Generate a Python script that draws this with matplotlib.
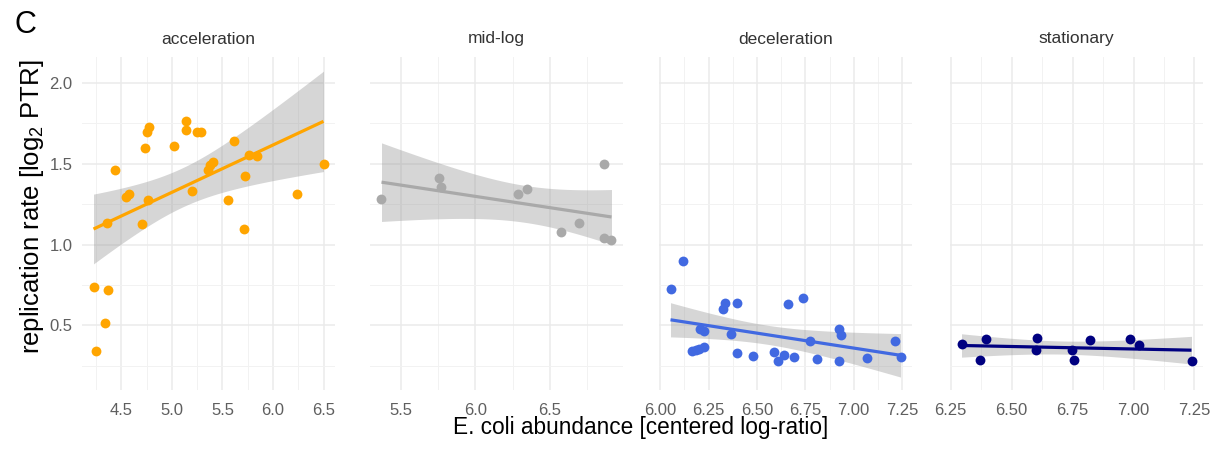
import numpy as np
import matplotlib.pyplot as plt
from matplotlib.ticker import MultipleLocator, FormatStrFormatter

plt.rcParams['font.family'] = ['Liberation Sans', 'DejaVu Sans']
plt.rcParams['mathtext.fontset'] = 'custom'
plt.rcParams['mathtext.rm'] = 'Liberation Sans'
plt.rcParams['mathtext.it'] = 'Liberation Sans:italic'

# growth phases (facets) and their colours
phases = ['acceleration', 'mid-log', 'deceleration', 'stationary']
colors = ['#FFA500', '#A9A9A9', '#4169E1', '#000080']

# values: E. coli abundance (x) vs log2 PTR (y)
acc_x = [4.223, 4.252, 4.338, 4.368, 4.355, 4.431, 4.543, 4.576, 4.708, 4.734,
         4.757, 4.771, 4.767, 5.021, 5.137, 5.140, 5.203, 5.252, 5.292, 5.353,
         5.379, 5.403, 5.559, 5.616, 5.715, 5.721, 5.764, 5.840, 6.236, 6.500]
acc_y = [0.738, 0.342, 0.515, 0.718, 1.134, 1.460, 1.295, 1.311, 1.130, 1.596,
         1.697, 1.728, 1.274, 1.610, 1.765, 1.711, 1.330, 1.693, 1.695, 1.460,
         1.491, 1.511, 1.278, 1.641, 1.099, 1.425, 1.553, 1.546, 1.315, 1.497]

mid_x = [5.371, 5.753, 5.767, 6.287, 6.342, 6.571, 6.693, 6.864, 6.860, 6.911]
mid_y = [1.282, 1.412, 1.357, 1.315, 1.346, 1.078, 1.134, 1.501, 1.043, 1.031]

dec_x = [6.053, 6.116, 6.163, 6.185, 6.202, 6.224, 6.207, 6.228, 6.322, 6.334,
         6.396, 6.368, 6.396, 6.478, 6.586, 6.611, 6.642, 6.659, 6.690, 6.740,
         6.774, 6.810, 6.925, 6.933, 6.925, 7.067, 7.212, 7.242]
dec_y = [0.725, 0.896, 0.344, 0.348, 0.354, 0.365, 0.475, 0.463, 0.604, 0.640,
         0.640, 0.444, 0.327, 0.313, 0.333, 0.281, 0.319, 0.635, 0.306, 0.667,
         0.402, 0.292, 0.479, 0.438, 0.277, 0.298, 0.402, 0.306]

sta_x = [6.294, 6.369, 6.396, 6.598, 6.602, 6.746, 6.755, 6.820, 6.985, 7.023, 7.238]
sta_y = [0.387, 0.284, 0.418, 0.350, 0.424, 0.350, 0.284, 0.412, 0.418, 0.381, 0.280]

xs_all = [acc_x, mid_x, dec_x, sta_x]
ys_all = [acc_y, mid_y, dec_y, sta_y]
x_major = [0.5, 0.5, 0.25, 0.25]
x_fmt = ['%.1f', '%.1f', '%.2f', '%.2f']


def t975(df):
    # Cornish-Fisher style approximation of the t quantile
    z = 1.959964
    return z + (z**3 + z) / (4 * df) + (5 * z**5 + 16 * z**3 + 3 * z) / (96 * df**2)


W, H = 1214, 450
fig = plt.figure(figsize=(W / 100, H / 100), dpi=100)

panel_left = [82, 370, 659, 950]
pw = 253
top, bottom = 57, 390

for i in range(4):
    x = np.array(xs_all[i])
    y = np.array(ys_all[i])
    c = colors[i]
    ax = fig.add_axes([panel_left[i] / W, (H - bottom) / H, pw / W, (bottom - top) / H])

    # linear fit with 95% confidence band (like geom_smooth(method='lm'))
    n = len(x)
    b1, b0 = np.polyfit(x, y, 1)
    resid = y - (b0 + b1 * x)
    s = np.sqrt(np.sum(resid**2) / (n - 2))
    xx = np.linspace(x.min(), x.max(), 100)
    yy = b0 + b1 * xx
    se = s * np.sqrt(1 / n + (xx - x.mean())**2 / np.sum((x - x.mean())**2))
    t = t975(n - 2)
    ax.fill_between(xx, yy - t * se, yy + t * se, color='#999999', alpha=0.4, lw=0, zorder=2)
    ax.scatter(x, y, s=50, color=c, lw=0, zorder=3)
    ax.plot(xx, yy, color=c, lw=2.3, zorder=4, solid_capstyle='butt')

    rng = x.max() - x.min()
    ax.set_xlim(x.min() - 0.05 * rng, x.max() + 0.05 * rng)
    ax.set_ylim(0.10, 2.16)

    ax.xaxis.set_major_locator(MultipleLocator(x_major[i]))
    ax.xaxis.set_minor_locator(MultipleLocator(x_major[i] / 2))
    ax.xaxis.set_major_formatter(FormatStrFormatter(x_fmt[i]))
    ax.yaxis.set_major_locator(MultipleLocator(0.5))
    ax.yaxis.set_minor_locator(MultipleLocator(0.25))

    ax.grid(which='major', color='#EBEBEB', lw=1.1, zorder=0)
    ax.grid(which='minor', color='#F2F2F2', lw=0.7, zorder=0)
    ax.set_axisbelow(True)
    for sp in ax.spines.values():
        sp.set_visible(False)
    ax.tick_params(which='both', length=0, labelsize=12, colors='#5F5F5F')
    ax.tick_params(axis='x', pad=9.5)
    ax.tick_params(axis='y', pad=7)
    if i > 0:
        ax.tick_params(axis='y', labelleft=False)

    fig.text((panel_left[i] + pw / 2) / W, 1 - 39 / H, phases[i],
             ha='center', va='center', fontsize=12.5, color='#333333')

fig.text(14 / W, 1 - 25 / H, 'C', ha='left', va='center', fontsize=22, color='black')
fig.text(32 / W, 1 - 207 / H, r'replication rate [log$_2$ PTR]', rotation=90,
         ha='center', va='center', fontsize=18.5, color='black')
fig.text(641 / W, 1 - 434 / H, 'E. coli abundance [centered log-ratio]',
         ha='center', va='baseline', fontsize=16.3, color='black')

fig.savefig('out.png', dpi=100)
